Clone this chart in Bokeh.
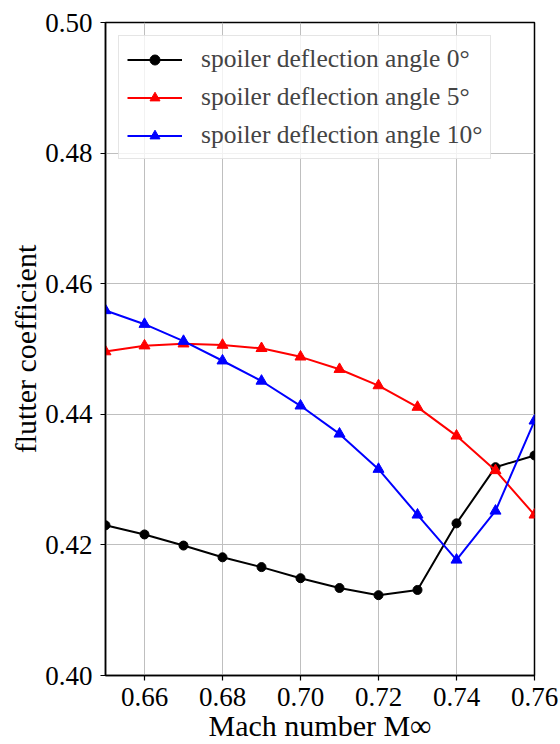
from bokeh.plotting import figure
from bokeh.models import FixedTicker, Legend, LegendItem, Range1d, NumeralTickFormatter
from bokeh.embed import file_html
from bokeh.resources import INLINE

mach = [0.65, 0.66, 0.67, 0.68, 0.69, 0.70, 0.71, 0.72, 0.73, 0.74, 0.75, 0.76]
flutter_0 = [0.4230, 0.4216, 0.4199, 0.4181, 0.4166, 0.4149, 0.4134, 0.4123, 0.4131, 0.4233, 0.4319, 0.4337]
flutter_5 = [0.4496, 0.4505, 0.4508, 0.4506, 0.4501, 0.4488, 0.4469, 0.4444, 0.4411, 0.4367, 0.4314, 0.4246]
flutter_10 = [0.4559, 0.4538, 0.4512, 0.4482, 0.4451, 0.4413, 0.4370, 0.4316, 0.4246, 0.4177, 0.4252, 0.4390]
labels = ["spoiler deflection angle 0°", "spoiler deflection angle 5°", "spoiler deflection angle 10°"]
x_ticks = [0.66, 0.68, 0.70, 0.72, 0.74, 0.76]
y_ticks = [0.40, 0.42, 0.44, 0.46, 0.48, 0.50]

FONT = "Liberation Serif"

p = figure(width=560, height=744, output_backend="svg", toolbar_location=None,
           x_range=Range1d(0.65, 0.76), y_range=Range1d(0.40, 0.50),
           min_border_left=105, min_border_right=26, min_border_top=22, min_border_bottom=66)

p.background_fill_color = "white"
p.outline_line_color = "black"
p.outline_line_width = 1.5

for ax in (p.xaxis[0], p.yaxis[0]):
    ax.axis_line_width = 1.5
    ax.major_tick_line_width = 1.2
    ax.major_tick_out = 5
    ax.major_tick_in = 0
    ax.minor_tick_out = 0
    ax.minor_tick_in = 0
    ax.major_label_text_font = FONT
    ax.major_label_text_font_size = "27px"
    ax.major_label_text_color = "black"
    ax.axis_label_text_font = FONT
    ax.axis_label_text_font_style = "normal"
    ax.axis_label_text_font_size = "30px"
    ax.axis_label_text_color = "black"
    ax.formatter = NumeralTickFormatter(format="0.00")

p.xaxis[0].ticker = FixedTicker(ticks=x_ticks)
p.yaxis[0].ticker = FixedTicker(ticks=y_ticks)
p.xaxis[0].axis_label = "Mach number M∞"
p.yaxis[0].axis_label = "flutter coefficient"
p.xaxis[0].major_label_standoff = 7
p.yaxis[0].major_label_standoff = 8
p.xaxis[0].axis_label_standoff = 0
p.yaxis[0].axis_label_standoff = 0

p.xgrid.ticker = FixedTicker(ticks=x_ticks)
p.ygrid.ticker = FixedTicker(ticks=y_ticks)
p.grid.grid_line_color = "#bfbfbf"
p.grid.grid_line_width = 1

series = [(flutter_0, "black", "circle", 9),
          (flutter_5, "red", "triangle", 11),
          (flutter_10, "blue", "triangle", 11)]

items = []
for (vals, col, mk, sz), lab in zip(series, labels):
    lr = p.line(mach, vals, line_color=col, line_width=2)
    sr = p.scatter(mach, vals, marker=mk, size=sz, fill_color=col, line_color=col)
    items.append(LegendItem(label=lab, renderers=[lr, sr]))

legend = Legend(items=items, location="top_left", margin=13,
                label_text_font=FONT, label_text_font_size="25.5px",
                glyph_width=55, glyph_height=25, label_height=25,
                label_standoff=19, spacing=8, padding=8,
                border_line_color="#cccccc", border_line_width=1,
                background_fill_alpha=0.8)
p.add_layout(legend, "center")

open("out.html", "w").write(file_html(p, INLINE))
